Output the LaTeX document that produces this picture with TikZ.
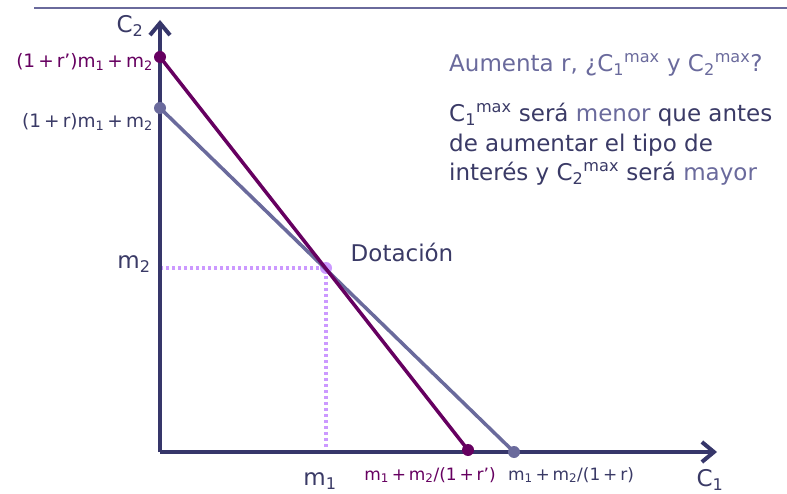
\documentclass[tikz,border=0pt]{standalone}
\usepackage{fontspec}
\setmainfont{DejaVu Sans}
\usetikzlibrary{arrows.meta}
\definecolor{navy}{HTML}{36366A}
\definecolor{slate}{HTML}{6A6A9C}
\definecolor{plum}{HTML}{660060}
\definecolor{lilac}{HTML}{CC99FF}
\definecolor{txt}{HTML}{3A3A66}
\newcommand{\pl}{\,+\,}
\begin{document}
\begin{tikzpicture}[x=1pt,y=-1pt,
  axis/.style={navy,line width=4pt,-{Straight Barb[length=12pt,width=20pt,line width=4pt]}},
  budget/.style={line width=3.5pt},
  dotline/.style={lilac,line width=3.5pt,dash pattern=on 3pt off 3pt},
  pt/.style={circle,inner sep=0pt,minimum size=12pt},
  big/.style={font=\fontsize{23}{29.5}\selectfont,text=txt,inner sep=0pt},
  small/.style={font=\fontsize{18.5}{20}\selectfont,inner sep=0pt},
  smaller/.style={font=\fontsize{17}{20}\selectfont,inner sep=0pt}]
\useasboundingbox (0,0) rectangle (787,494);
% top rule
\coordinate (r1) at (34,8);
\coordinate (r2) at (787,8);
\draw[slate,line width=2pt] (r1) -- (r2);
% coordinates
\coordinate (O) at (160,452);
\coordinate (ytip) at (160,20);
\coordinate (xtip) at (717,452);
\coordinate (A) at (160,57);
\coordinate (B) at (160,108);
\coordinate (Ap) at (468,450);
\coordinate (Bp) at (514,452);
\coordinate (E) at (326,268);
\coordinate (Ey) at (160,268);
\coordinate (Ex) at (326,452);
% dotted guides
\fill[lilac] (E) circle (6pt);
\draw[dotline] (Ey) -- (E) -- (Ex);
% axes
\draw[axis] (O) -- (ytip);
\draw[axis] (O) -- (xtip);
% budget lines
\draw[budget,slate] (B) -- (Bp);
\draw[budget,plum] (A) -- (Ap);
\node[pt,fill=slate] (Bd) at (B) {};
\node[pt,fill=slate] (Bpd) at (Bp) {};
\node[pt,fill=plum] (Ad) at (A) {};
\node[pt,fill=plum] (Apd) at (Ap) {};
% labels
\node[big] (c2) at (130,26) {C\textsubscript{2}};
\node[big] (c1) at (710,480) {C\textsubscript{1}};
\node[big] (m2) at (134,264) {m\textsubscript{2}};
\node[big] (m1) at (320,481) {m\textsubscript{1}};
\node[small,text=plum,anchor=east] (la) at (153,62) {(1\pl r’)m\textsubscript{1}\pl m\textsubscript{2}};
\node[small,text=txt,anchor=east] (lb) at (153,122) {(1\pl r)m\textsubscript{1}\pl m\textsubscript{2}};
\node[smaller,text=plum] (lap) at (430,475) {m\textsubscript{1}\pl m\textsubscript{2}/(1\pl r’)};
\node[smaller,text=txt] (lbp) at (571,475) {m\textsubscript{1}\pl m\textsubscript{2}/(1\pl r)};
\node[big] (dot) at (402,252) {Dotación};
\node[big,text=slate,anchor=west] (q) at (449,65) {Aumenta r, ¿C\textsubscript{1}\textsuperscript{max} y C\textsubscript{2}\textsuperscript{max}?};
\node[big,anchor=north west,align=left] (ans) at (449,103) {C\textsubscript{1}\textsuperscript{max} será \textcolor{slate}{menor} que antes\\de aumentar el tipo de\\interés y C\textsubscript{2}\textsuperscript{max} será \textcolor{slate}{mayor}};
\end{tikzpicture}
\end{document}
